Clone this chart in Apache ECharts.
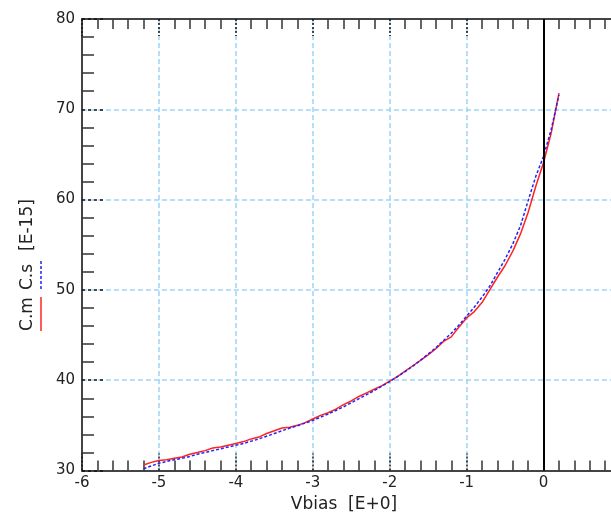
<!DOCTYPE html>
<html>
<head>
<meta charset="utf-8">
<script src="https://cdn.jsdelivr.net/npm/echarts@6/dist/echarts.min.js"></script>
<style>
  html, body { margin: 0; padding: 0; background: #fff; }
  #cvChart { width: 611px; height: 517px; }
</style>
</head>
<body>
<div id="cvChart"></div>
<script>
// bias voltage (V)
var vbias = [-5.2, -5.1, -5.0, -4.9, -4.8, -4.7, -4.6, -4.5, -4.4, -4.3, -4.2, -4.1,
  -4.0, -3.9, -3.8, -3.7, -3.6, -3.5, -3.4, -3.3, -3.2, -3.1, -3.0, -2.9, -2.8, -2.7,
  -2.6, -2.5, -2.4, -2.3, -2.2, -2.1, -2.0, -1.9, -1.8, -1.7, -1.6, -1.5, -1.4, -1.3,
  -1.2, -1.1, -1.0, -0.9, -0.8, -0.7, -0.6, -0.5, -0.4, -0.3, -0.2, -0.1, 0.0, 0.1, 0.2];
// measured capacitance C.m [E-15]
var cMeas = [30.6, 30.9, 31.1, 31.2, 31.35, 31.5, 31.8, 32.0, 32.2, 32.5, 32.6, 32.8,
  33.0, 33.2, 33.5, 33.7, 34.1, 34.4, 34.7, 34.8, 35.0, 35.3, 35.7, 36.1, 36.4, 36.8,
  37.3, 37.7, 38.2, 38.6, 39.0, 39.4, 39.9, 40.4, 41.0, 41.6, 42.2, 42.8, 43.5, 44.3,
  44.8, 45.9, 46.9, 47.6, 48.6, 50.0, 51.4, 52.7, 54.3, 56.2, 58.6, 61.5, 64.1, 67.4, 71.8];
// simulated capacitance C.s [E-15]
var cSim = [30.2, 30.5, 30.8, 31.0, 31.2, 31.35, 31.55, 31.8, 32.0, 32.2, 32.4, 32.6,
  32.8, 33.0, 33.25, 33.5, 33.8, 34.1, 34.4, 34.7, 34.95, 35.25, 35.55, 35.9, 36.25, 36.65,
  37.05, 37.5, 37.95, 38.4, 38.85, 39.35, 39.85, 40.4, 40.95, 41.55, 42.2, 42.9, 43.6, 44.4,
  45.2, 46.1, 47.1, 48.1, 49.2, 50.4, 51.9, 53.4, 55.1, 57.1, 59.9, 62.6, 64.8, 67.8, 71.6];

var xRange = [-6, 1];
var yRange = [30, 80];

function pairs(xs, ys) {
  return xs.map(function (x, i) { return [x, ys[i]]; });
}

var labelFont = { color: '#222', fontSize: 15, fontFamily: 'DejaVu Sans' };
var gridDash = { color: '#9dd4f7', width: 1.5, type: [5, 3] };

var chart = echarts.init(document.getElementById('cvChart'));
chart.setOption({
  animation: false,
  // plot runs past the right edge of the window, as in the original
  grid: { left: 82, right: -9.5, top: 19, bottom: 46.5, outerBoundsMode: 'none', containLabel: false },
  xAxis: [{
    type: 'value',
    min: xRange[0], max: xRange[1], interval: 1,
    axisLine: { onZero: false, lineStyle: { color: '#444', width: 2 } },
    axisTick: { inside: true, length: 17, lineStyle: { color: '#111', width: 1.5, type: [2, 2] } },
    minorTick: { show: true, splitNumber: 5, length: 10, lineStyle: { color: '#333', width: 1.5 } },
    axisLabel: Object.assign({ margin: 5 }, labelFont),
    splitLine: { show: true, lineStyle: gridDash }
  }, {
    type: 'value', position: 'top',
    min: xRange[0], max: xRange[1], interval: 1,
    axisLine: { onZero: false, lineStyle: { color: '#444', width: 2 } },
    axisTick: { inside: true, length: 17, lineStyle: { color: '#111', width: 1.5, type: [2, 2] } },
    minorTick: { show: true, splitNumber: 5, length: 10, lineStyle: { color: '#333', width: 1.5 } },
    axisLabel: { show: false },
    splitLine: { show: false }
  }],
  yAxis: {
    type: 'value',
    min: yRange[0], max: yRange[1], interval: 10,
    axisLine: { onZero: false, lineStyle: { color: '#444', width: 2 } },
    axisTick: { inside: true, length: 22, lineStyle: { color: '#111', width: 1.5, type: [3, 3] } },
    minorTick: { show: true, splitNumber: 5, length: 12, lineStyle: { color: '#333', width: 1.5 } },
    axisLabel: Object.assign({ margin: 7 }, labelFont),
    splitLine: { show: true, lineStyle: gridDash }
  },
  series: [{
    name: 'C.m',
    type: 'line',
    data: pairs(vbias, cMeas),
    showSymbol: false,
    lineStyle: { color: '#ff2222', width: 1.5 },
    markLine: {
      silent: true,
      symbol: 'none',
      label: { show: false },
      lineStyle: { color: '#000', width: 2, type: 'solid' },
      data: [{ xAxis: 0 }]
    },
    z: 3
  }, {
    name: 'C.s',
    type: 'line',
    data: pairs(vbias, cSim),
    showSymbol: false,
    lineStyle: { color: '#2222ff', width: 1.5, type: [3, 2] },
    z: 4
  }],
  graphic: [
    // x axis title
    { type: 'text', x: 344, y: 505,
      style: { text: 'Vbias  [E+0]', align: 'center', verticalAlign: 'middle',
        font: '17px DejaVu Sans', fill: '#222' } },
    // y axis title with line keys
    { type: 'text', x: 28, y: 314, rotation: Math.PI / 2,
      style: { text: 'C.m', align: 'center', verticalAlign: 'middle',
        font: '17px DejaVu Sans', fill: '#222' } },
    { type: 'text', x: 28, y: 277, rotation: Math.PI / 2,
      style: { text: 'C.s', align: 'center', verticalAlign: 'middle',
        font: '17px DejaVu Sans', fill: '#222' } },
    { type: 'text', x: 28, y: 225, rotation: Math.PI / 2,
      style: { text: '[E-15]', align: 'center', verticalAlign: 'middle',
        font: '17px DejaVu Sans', fill: '#222' } },
    { type: 'line', shape: { x1: 41, y1: 297, x2: 41, y2: 331 },
      style: { stroke: '#ff2222', lineWidth: 1.5 } },
    { type: 'line', shape: { x1: 41, y1: 261, x2: 41, y2: 290 },
      style: { stroke: '#2222ff', lineWidth: 1.5, lineDash: [3, 2] } }
  ]
});
window.onresize = chart.resize;
</script>
</body>
</html>
